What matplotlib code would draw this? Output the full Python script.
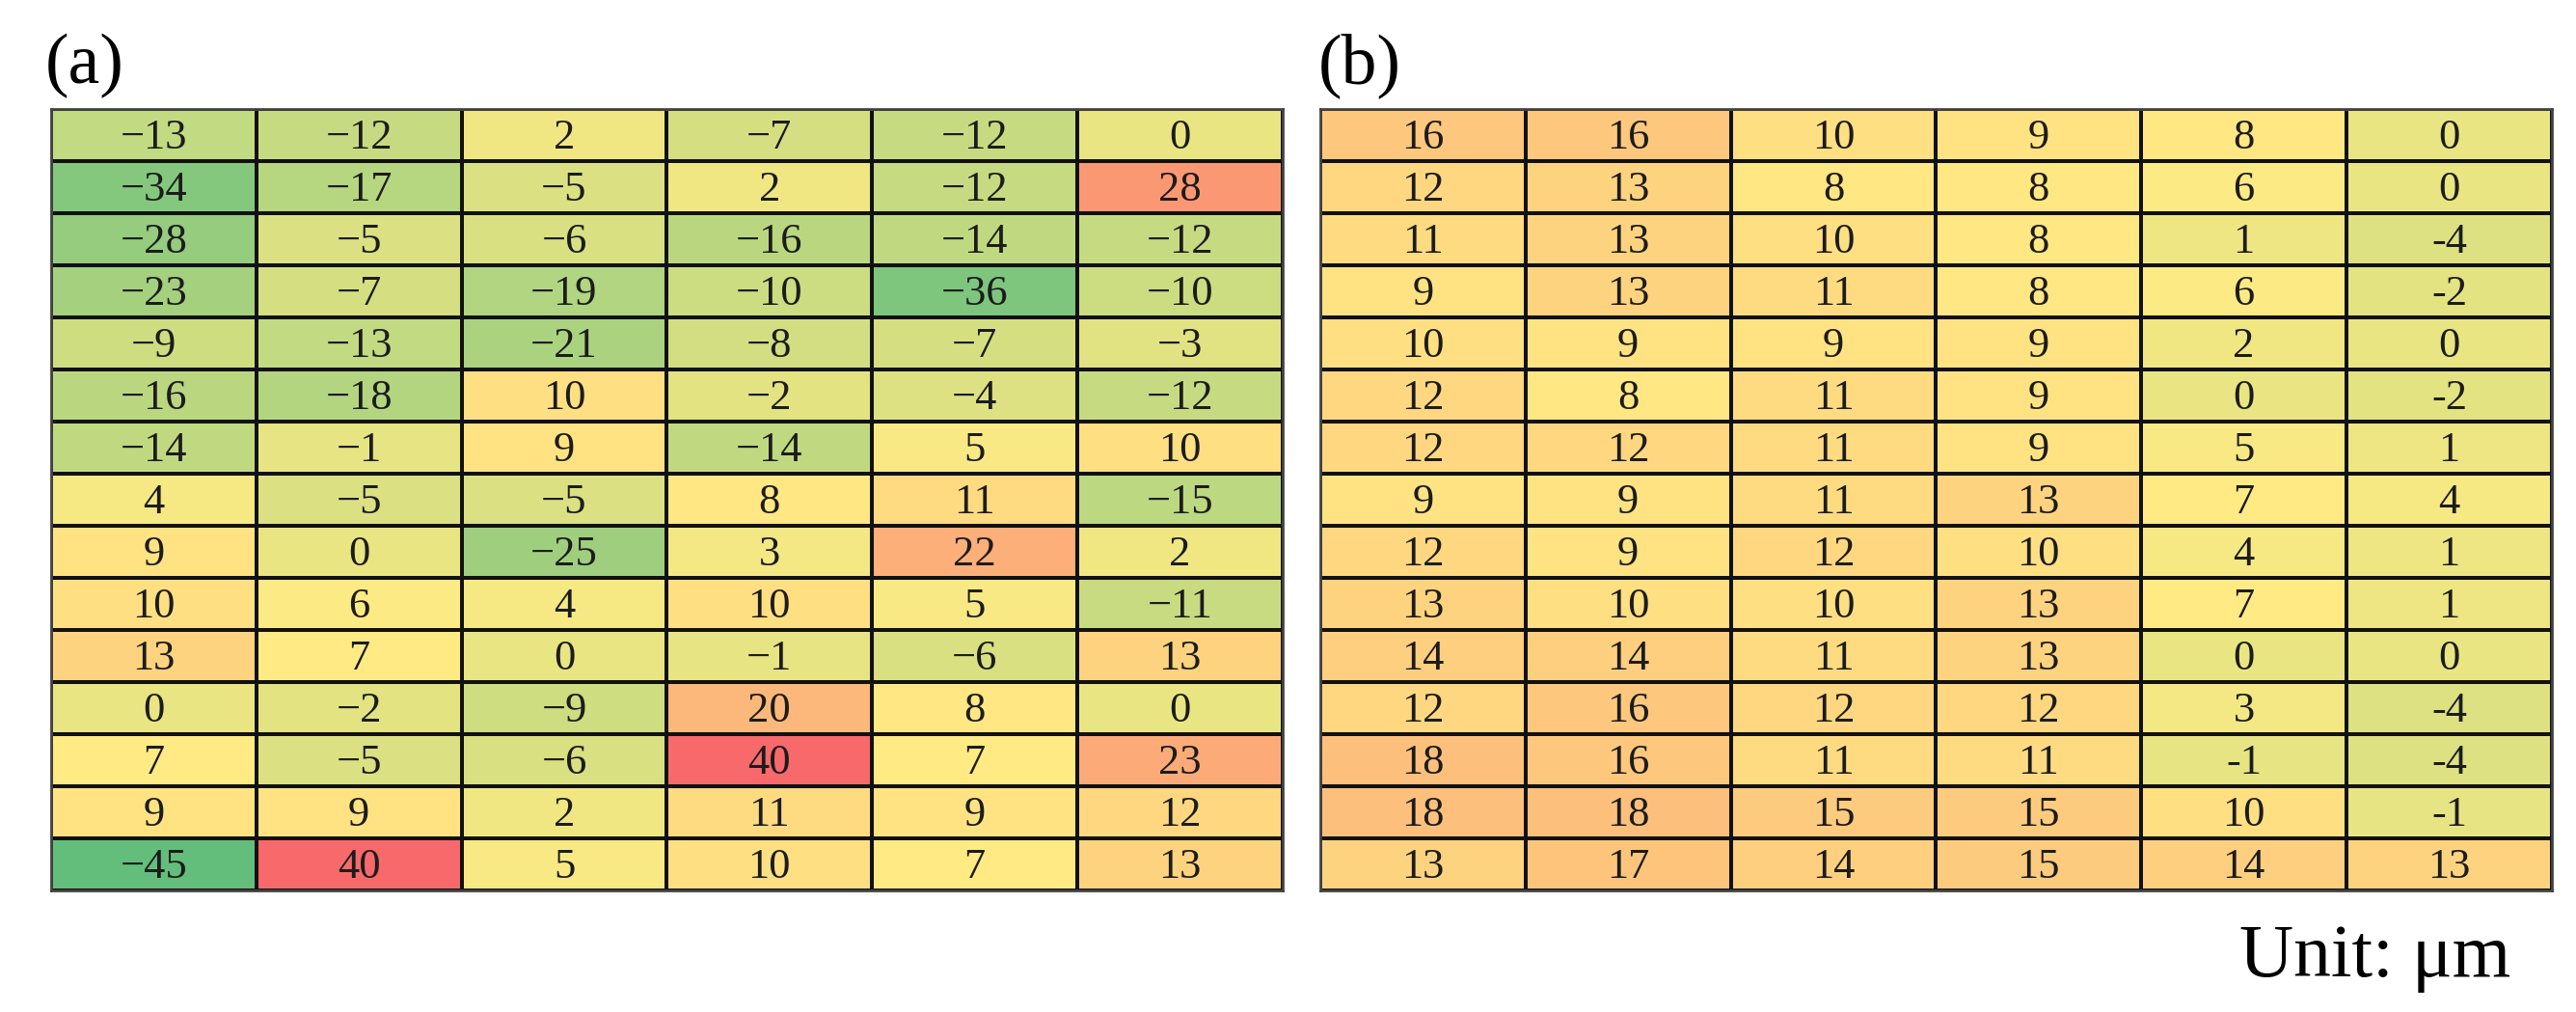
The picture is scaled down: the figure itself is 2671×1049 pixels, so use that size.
import matplotlib
matplotlib.use("Agg")
import matplotlib.pyplot as plt
import numpy as np
from matplotlib.colors import LinearSegmentedColormap, TwoSlopeNorm

plt.rcParams['font.family'] = ['Liberation Serif', 'DejaVu Serif']

# deviation values, 15 rows x 6 columns
panel_a = [
    [-13, -12, 2, -7, -12, 0],
    [-34, -17, -5, 2, -12, 28],
    [-28, -5, -6, -16, -14, -12],
    [-23, -7, -19, -10, -36, -10],
    [-9, -13, -21, -8, -7, -3],
    [-16, -18, 10, -2, -4, -12],
    [-14, -1, 9, -14, 5, 10],
    [4, -5, -5, 8, 11, -15],
    [9, 0, -25, 3, 22, 2],
    [10, 6, 4, 10, 5, -11],
    [13, 7, 0, -1, -6, 13],
    [0, -2, -9, 20, 8, 0],
    [7, -5, -6, 40, 7, 23],
    [9, 9, 2, 11, 9, 12],
    [-45, 40, 5, 10, 7, 13],
]

panel_b = [
    [16, 16, 10, 9, 8, 0],
    [12, 13, 8, 8, 6, 0],
    [11, 13, 10, 8, 1, -4],
    [9, 13, 11, 8, 6, -2],
    [10, 9, 9, 9, 2, 0],
    [12, 8, 11, 9, 0, -2],
    [12, 12, 11, 9, 5, 1],
    [9, 9, 11, 13, 7, 4],
    [12, 9, 12, 10, 4, 1],
    [13, 10, 10, 13, 7, 1],
    [14, 14, 11, 13, 0, 0],
    [12, 16, 12, 12, 3, -4],
    [18, 16, 11, 11, -1, -4],
    [18, 18, 15, 15, 10, -1],
    [13, 17, 14, 15, 14, 13],
]

panel_labels = ["(a)", "(b)"]
unit_label = "Unit: μm"

# excel style 3-colour scale, shared by both tables, midpoint at the median
cmap = LinearSegmentedColormap.from_list("excel", ["#63BE7B", "#FFEB84", "#F8696B"])
all_vals = np.concatenate([np.ravel(panel_a), np.ravel(panel_b)])
norm = TwoSlopeNorm(vmin=all_vals.min(), vcenter=np.median(all_vals), vmax=all_vals.max())


def draw_table(ax, data, minus):
    arr = np.array(data)
    nrows, ncols = arr.shape
    ax.pcolormesh(np.arange(ncols + 1), np.arange(nrows + 1), arr, cmap=cmap, norm=norm,
                  edgecolors="#111111", linewidth=1.6, shading="flat")
    for i in range(nrows):
        for j in range(ncols):
            v = arr[i, j]
            s = str(abs(v)) if v >= 0 else minus + str(abs(v))
            ax.text(j + 0.5, i + 0.55, s, ha="center", va="center", fontsize=32, color="#1c1c1c")
    ax.set_xlim(0, ncols)
    ax.set_ylim(nrows, 0)
    ax.set_xticks([])
    ax.set_yticks([])
    for sp in ax.spines.values():
        sp.set_color("#444444")
        sp.set_linewidth(2)


dpi = 100
fig = plt.figure(figsize=(2671 / dpi, 1049 / dpi), dpi=dpi)
ax_a = fig.add_axes([0.0198, 0.1201, 0.4781, 0.7722])
ax_b = fig.add_axes([0.5125, 0.1201, 0.4781, 0.7722])

draw_table(ax_a, panel_a, "\u2212")
draw_table(ax_b, panel_b, "-")

fig.text(0.0176, 0.935, panel_labels[0], fontsize=53, va="center", ha="left")
fig.text(0.5118, 0.935, panel_labels[1], fontsize=53, va="center", ha="left")
fig.text(0.9745, 0.035, unit_label, fontsize=56, va="baseline", ha="right")

fig.savefig("out.png", dpi=dpi)
